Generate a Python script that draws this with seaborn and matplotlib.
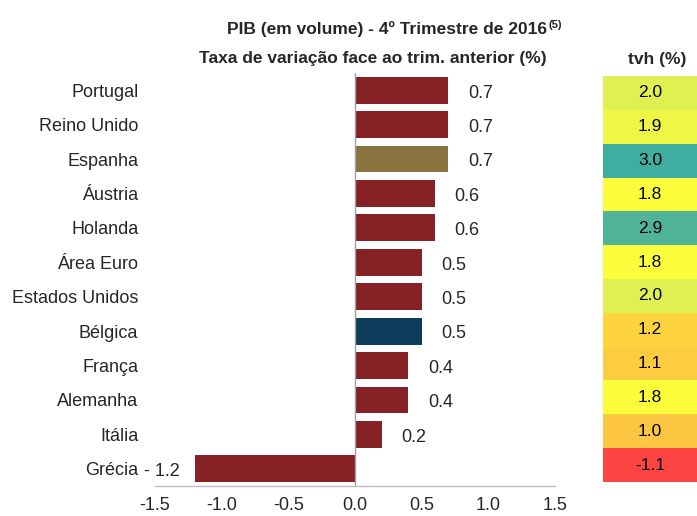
import matplotlib

matplotlib.use("Agg")

import matplotlib.pyplot as plt
import numpy as np
import pandas as pd
import seaborn as sns
from matplotlib.colors import LinearSegmentedColormap

countries = ["Portugal", "Reino Unido", "Espanha", "Áustria", "Holanda", "Área Euro",
             "Estados Unidos", "Bélgica", "França", "Alemanha", "Itália", "Grécia"]
qoq = [0.7, 0.7, 0.7, 0.6, 0.6, 0.5, 0.5, 0.5, 0.4, 0.4, 0.2, -1.2]
tvh = [2.0, 1.9, 3.0, 1.8, 2.9, 1.8, 2.0, 1.2, 1.1, 1.8, 1.0, -1.1]
x_ticks = [-1.5, -1.0, -0.5, 0.0, 0.5, 1.0, 1.5]

MAROON = "#862226"
bar_colors = {c: MAROON for c in countries}
bar_colors["Espanha"] = "#8B7340"
bar_colors["Bélgica"] = "#0E3D5C"

# colour scale of the tvh column (value, colour)
scale = [(-1.1, "#FF4444"), (1.0, "#FCC442"), (1.2, "#FDD440"),
         (1.8, "#FFFF3A"), (2.0, "#E0F050"), (3.0, "#3FAEA0")]

sns.set_style("white")
plt.rcParams["font.family"] = ["Liberation Sans", "DejaVu Sans"]
plt.rcParams["axes.unicode_minus"] = False
FS = 13

df = pd.DataFrame({"country": countries, "qoq": qoq, "tvh": tvh})

fig = plt.figure(figsize=(6.97, 5.16), dpi=100)
ax = fig.add_axes([0.2224, 0.0581, 0.5739, 0.8004])
sns.barplot(data=df, x="qoq", y="country", hue="country", palette=bar_colors,
            width=0.78, legend=False, saturation=1, linewidth=0, ax=ax)

ax.set_xlim(-1.5, 1.5)
ax.set_ylim(11.5, -0.5)
ax.set_xticks(x_ticks)
ax.set_xticklabels([f"{t:.1f}" for t in x_ticks])
ax.set_xlabel("")
ax.set_ylabel("")
ax.axvline(0, color="#A0A0A0", lw=1, zorder=3)
for side in ["top", "right", "left"]:
    ax.spines[side].set_visible(False)
ax.spines["bottom"].set_color("#BFBFBF")
ax.spines["bottom"].set_linewidth(1)
ax.tick_params(axis="x", length=4, width=1, color="#BFBFBF", pad=4, labelsize=FS)
ax.tick_params(axis="y", length=0, pad=12, labelsize=FS)

for i, v in enumerate(qoq):
    if v >= 0:
        ax.annotate(f"{v:.1f}", xy=(v, i), xytext=(14, -2), textcoords="offset points",
                    ha="left", va="center", fontsize=FS)
    else:
        ax.annotate(f"- {abs(v):.1f}", xy=(v, i), xytext=(-11, -2), textcoords="offset points",
                    ha="right", va="center", fontsize=FS)

# tvh column
vmin, vmax = scale[0][0], scale[-1][0]
cmap = LinearSegmentedColormap.from_list(
    "tvh", [((v - vmin) / (vmax - vmin), c) for v, c in scale])
ax2 = fig.add_axes([0.8651, 0.0659, 0.1349, 0.7868])
sns.heatmap(np.array(tvh).reshape(-1, 1), cmap=cmap, vmin=vmin, vmax=vmax,
            annot=True, fmt=".1f", cbar=False, xticklabels=False, yticklabels=False,
            annot_kws={"size": 12.5, "color": "black"}, ax=ax2)

t1 = fig.text(387 / 697, 1 - 34 / 516, "PIB (em volume) - 4º Trimestre de 2016",
              ha="center", va="baseline", fontsize=12.5, fontweight="bold")
fig.text(373 / 697, 1 - 63 / 516, "Taxa de variação face ao trim. anterior (%)",
         ha="center", va="baseline", fontsize=12.5, fontweight="bold")
ax.annotate("(5)", xy=(1, 1), xycoords=t1, xytext=(1, 1), textcoords="offset points",
            ha="left", va="top", fontsize=8, fontweight="bold", annotation_clip=False)
fig.text(657 / 697, 1 - 64 / 516, "tvh (%)", ha="center", va="baseline",
         fontsize=12.5, fontweight="bold")

fig.savefig("out.png", dpi=100)
